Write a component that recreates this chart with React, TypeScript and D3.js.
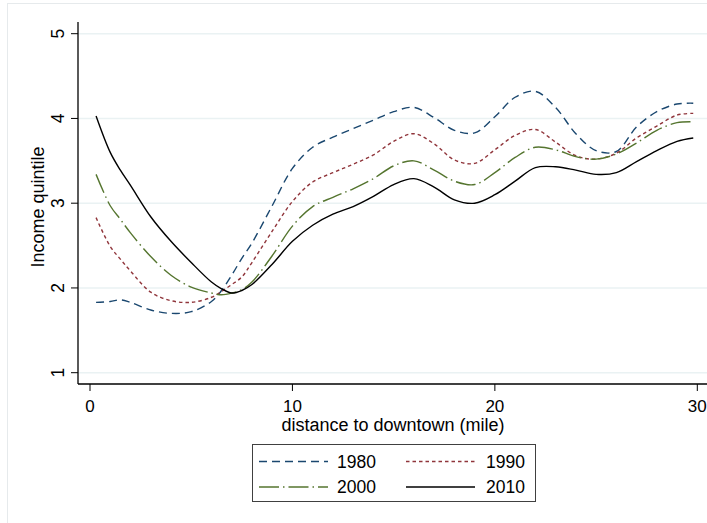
import React from "react";
import * as d3 from "d3";

const distance = [0.3, 1, 1.5, 2, 3, 4, 5, 6, 6.5, 7, 7.5, 8, 9, 10, 11, 12, 13, 14, 15, 16, 17, 18, 19, 20, 21, 22, 23, 24, 25, 26, 27, 28, 29, 29.8];
const y1980 = [1.83, 1.84, 1.86, 1.83, 1.74, 1.70, 1.72, 1.84, 1.97, 2.15, 2.35, 2.53, 2.97, 3.41, 3.66, 3.78, 3.88, 3.98, 4.08, 4.13, 4.01, 3.86, 3.83, 4.02, 4.25, 4.32, 4.13, 3.82, 3.62, 3.61, 3.90, 4.08, 4.17, 4.18];
const y1990 = [2.83, 2.49, 2.34, 2.20, 1.95, 1.85, 1.83, 1.89, 1.96, 2.04, 2.13, 2.30, 2.67, 3.02, 3.25, 3.36, 3.46, 3.57, 3.73, 3.82, 3.70, 3.51, 3.47, 3.63, 3.80, 3.87, 3.72, 3.56, 3.52, 3.59, 3.77, 3.91, 4.04, 4.06];
const y2000 = [3.34, 2.97, 2.81, 2.65, 2.37, 2.15, 2.01, 1.94, 1.92, 1.94, 1.98, 2.07, 2.38, 2.73, 2.96, 3.07, 3.17, 3.29, 3.44, 3.50, 3.39, 3.26, 3.22, 3.36, 3.54, 3.66, 3.63, 3.55, 3.52, 3.58, 3.71, 3.86, 3.95, 3.96];
const y2010 = [4.03, 3.60, 3.39, 3.21, 2.84, 2.55, 2.30, 2.07, 1.99, 1.94, 1.97, 2.04, 2.28, 2.55, 2.74, 2.87, 2.96, 3.08, 3.22, 3.29, 3.19, 3.04, 3.00, 3.10, 3.26, 3.42, 3.43, 3.39, 3.34, 3.36, 3.49, 3.62, 3.73, 3.77];

const seriesNames = ["1980", "1990", "2000", "2010"];
const seriesValues = [y1980, y1990, y2000, y2010];
const xTicks = [0, 10, 20, 30];
const yTicks = [1, 2, 3, 4, 5];

const styles = [
  { color: "#1a476f", dash: "8,5" },
  { color: "#90353b", dash: "3.5,3" },
  { color: "#55752f", dash: "20,4,1.5,4" },
  { color: "#000000", dash: "" },
];

const FONT = "'Liberation Sans', Arial, Helvetica, sans-serif";

export default function App() {
  const W = 707, H = 523;
  const x = d3.scaleLinear().domain([0, 30]).range([90, 697.3]);
  const y = d3.scaleLinear().domain([1, 5]).range([372.7, 33.7]);
  const plotLeft = 78, plotTop = 22, plotBottom = 384, plotRight = 730;

  const line = d3
    .line<[number, number]>()
    .x((d) => x(d[0]))
    .y((d) => y(d[1]))
    .curve(d3.curveCatmullRom.alpha(0.5));

  const legendCols = [259, 406];
  const legendTextX = [337, 486];
  const legendRows = [461.5, 487];

  return (
    <svg
      width={W}
      height={H}
      style={{ position: "fixed", left: 0, top: 0, background: "#fff" }}
      fontFamily={FONT}
    >
      <rect x={0} y={0} width={W} height={H} fill="#ffffff" />
      <rect x={7.5} y={3.5} width={740} height={560} fill="none" stroke="#e6eaec" strokeWidth={1} />
      {yTicks.map((t) => (
        <line key={"g" + t} x1={plotLeft} x2={plotRight} y1={y(t)} y2={y(t)} stroke="#eaf2f3" strokeWidth={1.5} />
      ))}
      <line x1={plotLeft} x2={plotLeft} y1={plotTop} y2={plotBottom} stroke="#000" strokeWidth={1.3} />
      <line x1={plotLeft} x2={plotRight} y1={plotBottom} y2={plotBottom} stroke="#000" strokeWidth={1.3} />
      {yTicks.map((t) => (
        <g key={"yt" + t}>
          <line x1={71} x2={plotLeft} y1={y(t)} y2={y(t)} stroke="#000" strokeWidth={1} />
          <text
            transform={`translate(63.5,${y(t)}) rotate(-90)`}
            textAnchor="middle"
            fontSize={17.5}
            fill="#000"
          >
            {t}
          </text>
        </g>
      ))}
      {xTicks.map((t) => (
        <g key={"xt" + t}>
          <line x1={x(t)} x2={x(t)} y1={plotBottom} y2={plotBottom + 7} stroke="#000" strokeWidth={1} />
          <text x={x(t)} y={411.5} textAnchor="middle" fontSize={17} fill="#000">
            {t}
          </text>
        </g>
      ))}
      <text transform={`translate(43.5,207) rotate(-90)`} textAnchor="middle" fontSize={18} fill="#000">
        Income quintile
      </text>
      <text x={393} y={431} textAnchor="middle" fontSize={18} fill="#000">
        distance to downtown (mile)
      </text>
      {seriesValues.map((vals, i) => (
        <path
          key={"s" + i}
          d={line(distance.map((d, j) => [d, vals[j]] as [number, number])) || ""}
          fill="none"
          stroke={styles[i].color}
          strokeWidth={1.4}
          strokeDasharray={styles[i].dash || undefined}
        />
      ))}
      <rect x={252.5} y={444.5} width={283} height={57} fill="#fff" stroke="#404040" strokeWidth={1} />
      {seriesNames.map((name, i) => {
        const col = i % 2;
        const row = Math.floor(i / 2);
        const ly = legendRows[row];
        return (
          <g key={"l" + i}>
            <line
              x1={legendCols[col]}
              x2={legendCols[col] + 69}
              y1={ly}
              y2={ly}
              stroke={styles[i].color}
              strokeWidth={1.4}
              strokeDasharray={styles[i].dash || undefined}
            />
            <text x={legendTextX[col]} y={ly + 6.3} fontSize={17.5} fill="#000">
              {name}
            </text>
          </g>
        );
      })}
    </svg>
  );
}
